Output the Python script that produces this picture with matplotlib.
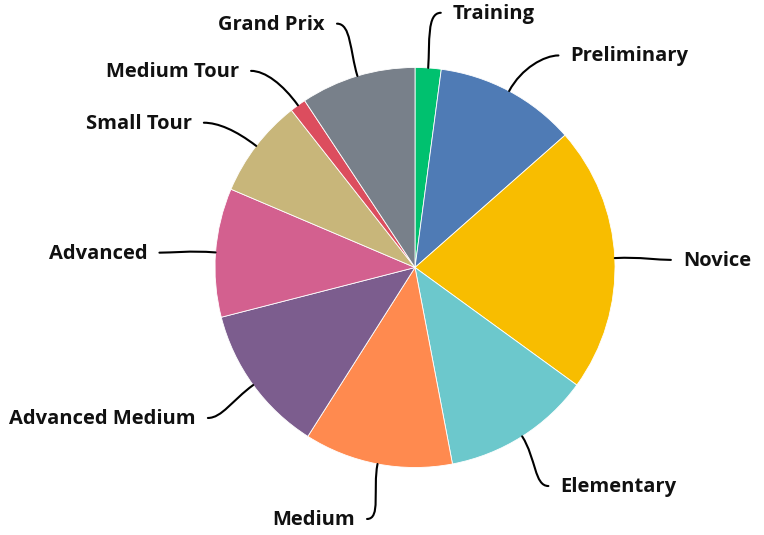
import numpy as np
import matplotlib
matplotlib.use("Agg")
import matplotlib.pyplot as plt
from matplotlib.path import Path
from matplotlib.patches import PathPatch

# share of entries per level (percent), clockwise from 12 o'clock
levels = ["Training", "Preliminary", "Novice", "Elementary", "Medium",
          "Advanced Medium", "Advanced", "Small Tour", "Medium Tour", "Grand Prix"]
shares = [2.1, 11.4, 21.5, 12.0, 12.0, 12.0, 10.4, 8.0, 1.3, 9.3]
colors = ["#00c16f", "#4f7bb5", "#f8bd00", "#6cc8cc", "#ff8a4f",
          "#7c5d8e", "#d3608f", "#c8b67a", "#dc4d5e", "#78808a"]

# label placement tweaks (degrees, clockwise) so labels spread a bit
label_nudge = [2, 6, 1, 1, 0, 0, -1, -3, -4, -1]

W, H = 764, 535
fig = plt.figure(figsize=(W / 100, H / 100), dpi=100)
ax = fig.add_axes([0, 0, 1, 1])

cx, cy, R = 415, 267.5, 200
wedges, _ = ax.pie(shares, colors=colors, startangle=90, counterclock=False,
                   radius=R, center=(cx, cy), frame=True,
                   wedgeprops=dict(edgecolor="white", linewidth=0.6))

for w, name, nd in zip(wedges, levels, label_nudge):
    mid = np.deg2rad((w.theta1 + w.theta2) / 2)
    end = mid - np.deg2rad(nd)
    ux, uy = np.cos(mid), np.sin(mid)
    ex, ey = np.cos(end), np.sin(end)
    side = 1 if ux >= 0 else -1
    p0 = (cx + R * ux, cy + R * uy)
    p1 = (cx + 1.13 * R * ux, cy + 1.13 * R * uy)
    p3 = (cx + 1.28 * R * ex, cy + 1.28 * R * ey)
    p2 = (p3[0] - side * 14, p3[1])
    path = Path([p0, p1, p2, p3], [Path.MOVETO, Path.CURVE4, Path.CURVE4, Path.CURVE4])
    ax.add_patch(PathPatch(path, fill=False, edgecolor="black", lw=1.5, capstyle="round"))
    ax.text(p3[0] + side * 12, p3[1] - 1, name, ha="left" if side > 0 else "right",
            va="center", fontsize=14.5, fontweight="bold", family="Open Sans",
            color="#111111")

ax.set_xlim(0, W)
ax.set_ylim(0, H)
ax.set_aspect("equal")
ax.axis("off")

fig.savefig("out.png", dpi=100)
